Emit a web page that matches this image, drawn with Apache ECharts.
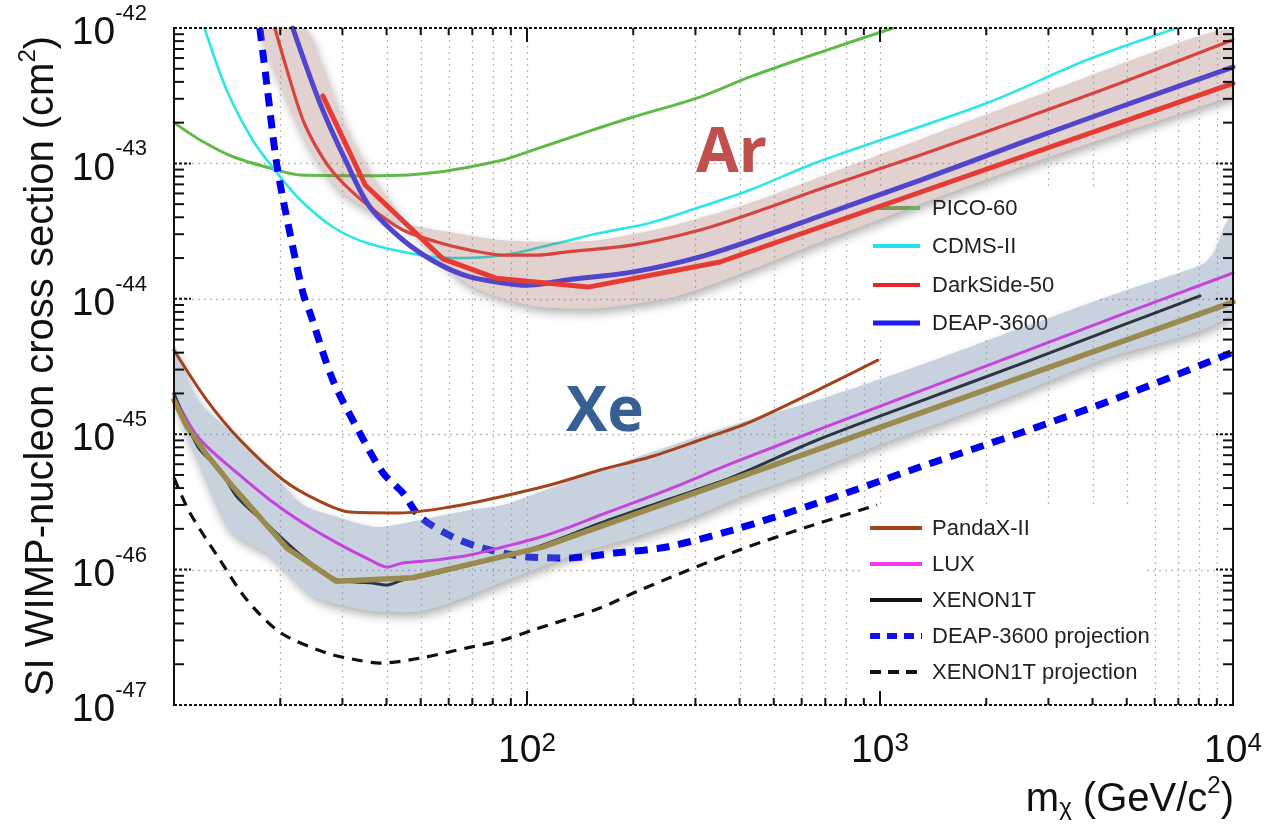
<!DOCTYPE html>
<html>
<head>
<meta charset="utf-8">
<title>SI WIMP-nucleon cross section limits</title>
<script src="https://cdn.jsdelivr.net/npm/echarts@6/dist/echarts.min.js"></script>
<style>
  html, body { margin: 0; padding: 0; background: #ffffff; }
  #chart { width: 1265px; height: 825px; }
</style>
</head>
<body>
<div id="chart"></div>
<script>
// ---- axis ticks and labels ----
const massTicksMajor = [10, 100, 1000, 10000];
const massTicksMinor = [20, 30, 40, 50, 60, 70, 80, 90,
                        200, 300, 400, 500, 600, 700, 800, 900,
                        2000, 3000, 4000, 5000, 6000, 7000, 8000, 9000];
const massLabelValues = [100, 1000, 10000];
const massLabelExps = ['2', '3', '4'];
const sigmaTicksMajor = [1e-47, 1e-46, 1e-45, 1e-44, 1e-43, 1e-42];
const sigmaLabelExps = ['-47', '-46', '-45', '-44', '-43', '-42'];
const sigmaMinorFactors = [2, 3, 4, 5, 6, 7, 8, 9];

// ---- limit curves: [mass (GeV/c^2), cross section (cm^2)] ----
const pico60 = [[10, 2.0e-43], [11.85, 1.49e-43], [14.7, 1.12e-43], [19.1, 9.1e-44], [22.8, 8.2e-44],
  [37.6, 8.1e-44], [55.6, 8.6e-44], [85.5, 1.06e-43], [100, 1.21e-43], [148, 1.71e-43], [200, 2.2e-43],
  [309, 3.09e-43], [428, 4.35e-43], [664, 6.5e-43], [1090, 1.0e-42]];

const cdms2 = [[12.2, 1.0e-42], [14.1, 3.48e-43], [16.7, 1.49e-43], [19.6, 8.5e-44], [22.8, 5.37e-44],
  [28.2, 3.39e-44], [35.2, 2.58e-44], [49.8, 2.1e-44], [61.7, 2.0e-44], [85.5, 2.1e-44], [116, 2.5e-44],
  [161, 3.06e-44], [223, 3.63e-44], [309, 4.76e-44], [428, 6.36e-44], [664, 1.02e-43], [2010, 2.79e-43],
  [3855, 5.8e-43], [6930, 1.0e-42]];

const darkside50 = [[19.3, 1.0e-42], [20.9, 4.9e-43], [23.2, 2.09e-43], [25.9, 1.19e-43], [29.0, 7.94e-44],
  [35.9, 4.76e-44], [44.5, 3.22e-44], [55.6, 2.63e-44], [68.9, 2.29e-44], [85.5, 2.1e-44], [107, 2.1e-44],
  [130, 2.22e-44], [200, 2.5e-44], [309, 3.22e-44], [479, 4.68e-44], [664, 6.36e-44], [1297, 1.15e-43],
  [2495, 2.1e-43], [4786, 3.9e-43], [10000, 8.2e-43]];

const darkside50Update = [[26.4, 3.15e-43], [34.8, 6.93e-44], [57.8, 1.97e-44], [81.7, 1.42e-44],
  [149, 1.22e-44], [352, 1.87e-44], [10000, 3.9e-43]];

const deap3600 = [[21.7, 1.0e-42], [25.9, 2.79e-43], [30.9, 1.0e-43], [35.9, 4.76e-44], [44.5, 2.72e-44],
  [55.6, 1.84e-44], [68.9, 1.45e-44], [85.5, 1.31e-44], [100, 1.26e-44], [130, 1.38e-44], [200, 1.58e-44],
  [309, 2.04e-44], [479, 2.96e-44], [664, 4.02e-44], [1297, 7.5e-44], [2495, 1.41e-43], [4786, 2.61e-43],
  [10000, 5.15e-43]];

const pandax2 = [[10, 4.17e-45], [12.4, 1.78e-45], [15.4, 9.06e-46], [20.4, 4.59e-46], [25.4, 3.27e-46],
  [31.5, 2.66e-46], [43.7, 2.62e-46], [60.5, 2.9e-46], [83.8, 3.44e-46], [116, 4.21e-46], [161, 5.44e-46],
  [223, 6.79e-46], [309, 9.06e-46], [428, 1.23e-45], [664, 2.11e-45], [986, 3.52e-45]];

const lux = [[10, 1.94e-45], [11.7, 9.5e-46], [15.1, 5.17e-46], [18.7, 3.27e-46], [23.2, 2.21e-46],
  [29.0, 1.57e-46], [35.9, 1.18e-46], [40.1, 1.045e-46], [44.5, 1.12e-46], [55.6, 1.18e-46], [68.9, 1.28e-46],
  [85.5, 1.47e-46], [107, 1.71e-46], [132, 2.06e-46], [161, 2.52e-46], [249, 3.87e-46], [383, 6.13e-46],
  [664, 1.07e-45], [1297, 2.08e-45], [2495, 3.97e-45], [4786, 7.57e-45], [10000, 1.55e-44]];

const xenon1t = [[10, 2.0e-45], [11.7, 8.05e-46], [13.5, 5.44e-46], [15.1, 3.44e-46], [18.7, 2.06e-46],
  [23.2, 1.24e-46], [29.0, 8.4e-47], [35.9, 8.0e-47], [40.1, 7.7e-47], [44.5, 8.4e-47], [55.6, 9.4e-47],
  [68.9, 1.08e-46], [85.5, 1.24e-46], [107, 1.47e-46], [132, 1.8e-46], [161, 2.2e-46], [249, 3.27e-46],
  [383, 4.83e-46], [664, 9.06e-46], [1297, 1.75e-45], [2495, 3.29e-45], [4786, 6.28e-45], [8065, 1.05e-44]];

const xenon1tUpdate = [[10, 1.78e-45], [10.9, 1.13e-45], [12.4, 7.02e-46], [14.7, 4.08e-46], [20.9, 1.44e-46],
  [28.8, 8.2e-47], [47.5, 8.7e-47], [111, 1.47e-46], [10000, 9.44e-45]];

const deap3600Projection = [[17.5, 1.0e-42], [18.3, 3.92e-43], [19.6, 9.4e-44], [21.3, 3.06e-44], [23.2, 1.1e-44],
  [24.3, 7.84e-45], [28.2, 2.5e-45], [33.6, 1.02e-45], [39.1, 5.17e-46], [44.5, 3.68e-46], [49.8, 2.45e-46],
  [61.7, 1.74e-46], [75.0, 1.44e-46], [100, 1.24e-46], [130, 1.22e-46], [180, 1.33e-46], [249, 1.47e-46],
  [383, 1.96e-46], [664, 3.1e-46], [1297, 5.72e-46], [2495, 1.02e-45], [4786, 1.88e-45], [10000, 4.03e-45]];

const xenon1tProjection = [[10, 4.75e-46], [11.1, 2.62e-46], [13.5, 1.18e-46], [16.1, 5.96e-47], [20.1, 3.4e-47],
  [27.1, 2.42e-47], [33.0, 2.15e-47], [38.3, 2.04e-47], [49.8, 2.22e-47], [67.6, 2.64e-47], [85.5, 3.02e-47],
  [104, 3.58e-47], [161, 5.2e-47], [209, 7.07e-47], [401, 1.4e-46], [621, 2.06e-46], [981, 3.0e-46]];

// ---- shaded bands: upper and lower edges ----
const arBandUpper = [[17.7, 1e-42], [20.6, 3.2e-43], [24.3, 1.26e-43], [29.5, 6.36e-44], [38.3, 4.16e-44],
  [49.8, 3.39e-44], [57.8, 3.17e-44], [83.8, 2.72e-44], [124, 2.63e-44], [161, 2.72e-44], [249, 3.39e-44],
  [428, 5.1e-44], [664, 7.8e-44], [1611, 1.86e-43], [3855, 4.35e-43], [7907, 8.6e-43], [10000, 9.5e-43]];
const arBandLower = [[23.5, 1e-42], [25.9, 5.8e-43], [30.5, 1.92e-43], [37.1, 7.54e-44], [45.1, 3.82e-44],
  [56.7, 1.93e-44], [68.9, 1.26e-44], [85.5, 1.01e-44], [109, 8.7e-45], [161, 8.55e-45], [266, 1.05e-44],
  [428, 1.63e-44], [676, 2.63e-44], [2495, 9.4e-44], [9183, 2.94e-43], [10000, 3.15e-43]];

const xeBandUpper = [[10, 4.54e-45], [11.7, 1.78e-45], [15.1, 9.5e-46], [18.7, 5.44e-46], [23.2, 3.0e-46],
  [29.0, 2.45e-46], [37.6, 2.06e-46], [49.8, 2.32e-46], [68.9, 2.75e-46], [85.5, 3.0e-46], [107, 3.68e-46],
  [161, 5.44e-46], [249, 8.05e-46], [383, 1.17e-45], [664, 1.78e-45], [1297, 3.23e-45], [2495, 6.07e-45],
  [4786, 1.12e-44], [8222, 1.81e-44], [8892, 2.29e-44], [9490, 3.51e-44], [10000, 4.16e-44]];
const xeBandLower = [[10, 1.78e-45], [11.85, 5.72e-46], [14.4, 1.96e-46], [18.7, 1.28e-46], [24.8, 6.4e-47],
  [35.2, 5.0e-47], [48.8, 4.9e-47], [60.5, 5.7e-47], [83.8, 8.0e-47], [135, 1.28e-46], [200, 1.74e-46],
  [295, 2.45e-46], [401, 3.44e-46], [621, 5.17e-46], [955, 8.05e-46], [2188, 1.78e-45], [4198, 3.52e-45],
  [10000, 7.96e-45]];

// ---- legend entries ----
const legendArNames = ['PICO-60', 'CDMS-II', 'DarkSide-50', 'DEAP-3600'];
const legendArColors = ['#6cb35c', '#22e3e6', '#e8262a', '#1c1cf5'];
const legendXeNames = ['PandaX-II', 'LUX', 'XENON1T', 'DEAP-3600 projection', 'XENON1T projection'];
const legendXeColors = ['#a3431b', '#ee3cee', '#111111', '#1010f0', '#111111'];

// The y axis works in units of 1e-47 cm^2 so the log scale stays within float rounding range.
const SIGMA_UNIT = 1e-47;
const toAxis = pts => pts.map(([m, s]) => [m, s / SIGMA_UNIT]);

const FONT = '"Liberation Sans", Arial, Helvetica, sans-serif';
const M_MIN = massTicksMajor[0], M_MAX = massTicksMajor[massTicksMajor.length - 1];
const Y_MIN = sigmaTicksMajor[0] / SIGMA_UNIT, Y_MAX = sigmaTicksMajor[sigmaTicksMajor.length - 1] / SIGMA_UNIT;

// legend block layout (pixels): clear area, icon span, text start, first row and row pitch
const legendUpper = { left: 862, top: 187, width: 238, height: 153,
  iconX1: 873, iconX2: 920, textX: 932, row0: 208, pitch: 38.4 };
const legendLower = { left: 860, top: 507, width: 287, height: 196,
  iconX1: 870, iconX2: 922, textX: 932, row0: 528, pitch: 36 };
const legendAreas = [legendUpper, legendLower];

function seg(x1, y1, x2, y2, style) {
  return { type: 'line', shape: { x1, y1, x2, y2 }, style };
}

// remove the [from, to] spans in holes from the interval [a, b]
function cutInterval(a, b, holes) {
  let parts = [[a, b]];
  holes.forEach(([h0, h1]) => {
    const next = [];
    parts.forEach(([p0, p1]) => {
      if (h1 <= p0 || h0 >= p1) { next.push([p0, p1]); return; }
      if (h0 > p0) next.push([p0, h0]);
      if (h1 < p1) next.push([h1, p1]);
    });
    parts = next;
  });
  return parts;
}

// fitted limit curves are drawn smoothly, piecewise results as straight segments
function curve(name, data, color, width, z, opts) {
  opts = opts || {};
  return {
    type: 'line', name, data: toAxis(data), z, silent: true, clip: true,
    symbol: 'none', showSymbol: false,
    smooth: opts.straight ? false : 0.3,
    itemStyle: { color },
    lineStyle: { color, width, type: opts.dash || 'solid', cap: opts.dash ? 'butt' : 'round', join: 'round' }
  };
}

function bandSeries(name, upper, lower, style, z) {
  const up = toAxis(upper), low = toAxis(lower);
  return {
    type: 'custom', name, z, silent: true, clip: true,
    data: [up[0]],
    renderItem(params, api) {
      const pts = up.map(p => api.coord(p)).concat(low.slice().reverse().map(p => api.coord(p)));
      return { type: 'polygon', shape: { points: pts, smooth: 0.25 }, style };
    }
  };
}

// dotted grid inside the plot, left open where the legend blocks sit
const gridSeries = {
  type: 'custom', name: 'grid', z: 1, silent: true,
  data: [[M_MIN, Y_MIN]],
  renderItem(params, api) {
    const [xl, yb] = api.coord([M_MIN, Y_MIN]);
    const [xr, yt] = api.coord([M_MAX, Y_MAX]);
    const st = { stroke: '#bcbcbc', lineWidth: 1.3, lineDash: [2, 4] };
    const ch = [];
    massTicksMinor.concat(massTicksMajor.slice(1, -1)).forEach(m => {
      const x = Math.round(api.coord([m, Y_MIN])[0]) + 0.5;
      const holes = legendAreas.filter(b => x > b.left && x < b.left + b.width)
        .map(b => [b.top, b.top + b.height]);
      cutInterval(yt, yb, holes).forEach(([y0, y1]) => ch.push(seg(x, y0, x, y1, st)));
    });
    sigmaTicksMajor.slice(1, -1).forEach(s => {
      const y = Math.round(api.coord([M_MIN, s / SIGMA_UNIT])[1]) + 0.5;
      const holes = legendAreas.filter(b => y > b.top && y < b.top + b.height)
        .map(b => [b.left, b.left + b.width]);
      cutInterval(xl, xr, holes).forEach(([x0, x1]) => ch.push(seg(x0, y, x1, y, st)));
    });
    return { type: 'group', children: ch };
  }
};

// legend keys and names
const legendIconStyles = {
  'DEAP-3600': { lineWidth: 5 },
  'DEAP-3600 projection': { lineWidth: 6, lineDash: [10, 7] },
  'XENON1T projection': { lineWidth: 4, lineDash: [11, 7] }
};
function legendBlock(block, names, colors) {
  const ch = [];
  names.forEach((name, i) => {
    const y = Math.round(block.row0 + i * block.pitch);
    const extra = legendIconStyles[name] || {};
    ch.push(seg(block.iconX1, y, block.iconX2, y,
      Object.assign({ stroke: colors[i], lineWidth: 4 }, extra)));
    ch.push({ type: 'text', x: block.textX, y: y + 1,
      style: { text: name, fontSize: 22, fontFamily: FONT, fill: '#222', align: 'left', verticalAlign: 'middle' } });
  });
  return ch;
}
const legendSeries = {
  type: 'custom', name: 'legend', z: 4.5, silent: true,
  data: [[M_MIN, Y_MIN]],
  renderItem() {
    return {
      type: 'group',
      children: legendBlock(legendUpper, legendArNames, legendArColors)
        .concat(legendBlock(legendLower, legendXeNames, legendXeColors))
    };
  }
};

// axes frame with inward ticks
const frameSeries = {
  type: 'custom', name: 'frame', z: 7, silent: true,
  data: [[M_MIN, Y_MIN]],
  renderItem(params, api) {
    const [xl, yb] = api.coord([M_MIN, Y_MIN]);
    const [xr, yt] = api.coord([M_MAX, Y_MAX]);
    const solid = { stroke: '#111', lineWidth: 2 };
    const dotted = { stroke: '#111', lineWidth: 2, lineDash: [3, 2] };
    const ch = [
      seg(xl, yt, xr, yt, dotted), seg(xl, yb, xr, yb, dotted),
      seg(xl, yt - 1, xl, yb + 1, solid), seg(xr, yt - 1, xr, yb + 1, solid)
    ];
    sigmaTicksMajor.slice(0, -1).forEach(d => {
      sigmaMinorFactors.forEach(k => {
        const y = api.coord([M_MIN, k * d / SIGMA_UNIT])[1];
        ch.push(seg(xl, y, xl + 10, y, solid), seg(xr, y, xr - 10, y, solid));
      });
    });
    sigmaTicksMajor.slice(1, -1).forEach(s => {
      const y = api.coord([M_MIN, s / SIGMA_UNIT])[1];
      ch.push(seg(xl, y, xl + 17, y, dotted), seg(xr, y, xr - 17, y, dotted));
    });
    massTicksMinor.forEach(m => {
      const x = api.coord([m, Y_MIN])[0];
      ch.push(seg(x, yt, x, yt + 7, solid), seg(x, yb, x, yb - 7, solid));
    });
    massTicksMajor.slice(1, -1).forEach(m => {
      const x = api.coord([m, Y_MIN])[0];
      ch.push(seg(x, yt, x, yt + 14, solid), seg(x, yb, x, yb - 14, solid));
    });
    return { type: 'group', children: ch };
  }
};

const arBandFill = 'rgba(150, 95, 88, 0.29)';
const xeBandFill = 'rgba(112, 140, 171, 0.39)';
const shadowUnder = { fill: '#ffffff', shadowBlur: 10, shadowOffsetY: 5, shadowOffsetX: 2, shadowColor: 'rgba(0,0,0,0.3)' };

const option = {
  animation: false,
  backgroundColor: '#ffffff',
  grid: { left: 174, right: 32, top: 28, bottom: 120, containLabel: false },
  xAxis: {
    type: 'log', logBase: 10, min: M_MIN, max: M_MAX,
    axisLine: { show: false }, axisTick: { show: false }, splitLine: { show: false },
    axisLabel: {
      margin: 26, showMinLabel: true, showMaxLabel: true,
      formatter(v) {
        const i = massLabelValues.findIndex(m => Math.abs(m - v) / m < 1e-6);
        return i < 0 ? '' : '{b|10}{s|' + massLabelExps[i] + '}';
      },
      rich: {
        b: { fontSize: 39, fontFamily: FONT, color: '#111', lineHeight: 40, verticalAlign: 'bottom' },
        s: { fontSize: 26, fontFamily: FONT, color: '#111', lineHeight: 18, verticalAlign: 'top' }
      }
    }
  },
  yAxis: {
    type: 'log', logBase: 10, min: Y_MIN, max: Y_MAX,
    axisLine: { show: false }, axisTick: { show: false }, splitLine: { show: false },
    axisLabel: {
      margin: 27, showMinLabel: true, showMaxLabel: true,
      formatter(v) {
        const i = sigmaTicksMajor.findIndex(s => Math.abs(s / SIGMA_UNIT - v) / (s / SIGMA_UNIT) < 1e-6);
        return i < 0 ? '' : '{b|10}{s|' + sigmaLabelExps[i] + '}';
      },
      rich: {
        b: { fontSize: 39, fontFamily: FONT, color: '#111', lineHeight: 50, verticalAlign: 'bottom' },
        s: { fontSize: 22, fontFamily: FONT, color: '#111', lineHeight: 34, verticalAlign: 'top' }
      }
    }
  },
  graphic: [
    {
      type: 'text', x: 39, y: 366, rotation: Math.PI / 2, z: 10,
      style: {
        text: '{t|SI WIMP-nucleon cross section (cm}{u|2}{t|)}',
        align: 'center', verticalAlign: 'middle',
        rich: {
          t: { fontSize: 40, fontFamily: FONT, fill: '#111', lineHeight: 46, verticalAlign: 'bottom' },
          u: { fontSize: 24, fontFamily: FONT, fill: '#111', lineHeight: 12, verticalAlign: 'top' }
        }
      }
    },
    {
      type: 'text', x: 1234, y: 797, z: 10,
      style: {
        text: '{a|m}{c|χ}{a| (GeV/c}{d|2}{a|)}',
        align: 'right', verticalAlign: 'middle',
        rich: {
          a: { fontSize: 40, fontFamily: FONT, fill: '#111', lineHeight: 46, verticalAlign: 'bottom' },
          c: { fontSize: 24, fontFamily: FONT, fill: '#111', lineHeight: 6, verticalAlign: 'bottom' },
          d: { fontSize: 24, fontFamily: FONT, fill: '#111', lineHeight: 22, verticalAlign: 'top' }
        }
      }
    },
    {
      type: 'text', x: 696, y: 154, z: 10,
      style: { text: 'Ar', font: 'bold 62px "Open Sans", "Liberation Sans", sans-serif', fill: '#c0504d',
               align: 'left', verticalAlign: 'middle' }
    },
    {
      type: 'text', x: 566, y: 413, z: 10,
      style: { text: 'Xe', font: 'bold 62px "Open Sans", "Liberation Sans", sans-serif', fill: '#376092',
               align: 'left', verticalAlign: 'middle' }
    }
  ],
  series: [
    bandSeries('Ar band shadow', arBandUpper, arBandLower, shadowUnder, 0.5),
    bandSeries('Xe band shadow', xeBandUpper, xeBandLower, shadowUnder, 0.5),
    gridSeries,
    curve('PICO-60', pico60, '#5fba4a', 3, 2),
    curve('CDMS-II', cdms2, '#2de6e6', 2.6, 2),
    curve('DEAP-3600 projection', deap3600Projection, '#0000f0', 7, 2, { dash: [13, 9] }),
    curve('LUX', lux, '#ff16ff', 3, 3),
    curve('XENON1T', xenon1t, '#000000', 3, 3),
    curve('XENON1T update', xenon1tUpdate, '#b58a12', 5.5, 3, { straight: true }),
    legendSeries,
    bandSeries('Xe band', xeBandUpper, xeBandLower, { fill: xeBandFill }, 5),
    bandSeries('Ar band', arBandUpper, arBandLower, { fill: arBandFill }, 5),
    curve('DarkSide-50', darkside50, '#d8433e', 3.2, 6),
    curve('DEAP-3600', deap3600, '#5045cb', 5, 6),
    curve('DarkSide-50 update', darkside50Update, '#e63a35', 5, 6, { straight: true }),
    curve('PandaX-II', pandax2, '#a3431b', 3, 6),
    curve('XENON1T projection', xenon1tProjection, '#111111', 3.2, 6, { dash: [11, 8] }),
    frameSeries
  ]
};

const chart = echarts.init(document.getElementById('chart'), null, { renderer: 'canvas' });
chart.setOption(option);
</script>
</body>
</html>
